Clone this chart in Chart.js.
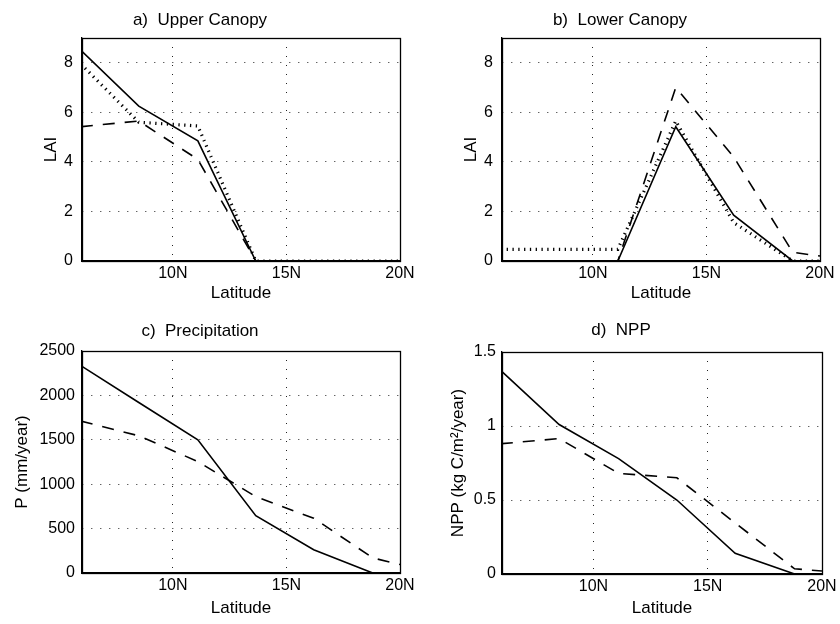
<!DOCTYPE html>
<html lang="en">
<head>
    <meta charset="UTF-8">
    <title>Canopy LAI, Precipitation and NPP by Latitude</title>
    <style>
        body {
            margin: 0;
            background: #fff;
        }
        #wrap {
            position: relative;
            width: 840px;
            height: 624px;
        }
        #wrap canvas {
            position: absolute;
        }
    </style>
</head>
<body>
    <div id="wrap">
        <canvas id="panelA" width="420" height="312" style="left:0;top:0"></canvas>
        <canvas id="panelB" width="420" height="312" style="left:420px;top:0"></canvas>
        <canvas id="panelC" width="420" height="312" style="left:0;top:312px"></canvas>
        <canvas id="panelD" width="420" height="312" style="left:420px;top:312px"></canvas>
    </div>

    <script src="https://cdn.jsdelivr.net/npm/chart.js@4.4.0/dist/chart.umd.min.js"></script>
    <script>
        // Latitude of each model grid row (degrees N)
        var lat = [5.95, 8.5, 11.1, 13.65, 16.2, 18.8, 20];
        var xTicks = [10, 15, 20];

        // a) upper canopy LAI
        var upperSolid  = [8.5, 6.25, 4.85, 0, 0, 0, 0];
        var upperDashed = [5.42, 5.65, 4.1, 0, 0, 0, 0];
        var upperDotted = [7.95, 5.6, 5.45, 0, 0, 0, 0];

        // b) lower canopy LAI
        var lowerSolid  = [0, 0, 0, 5.42, 1.85, 0, 0];
        var lowerDashed = [0, 0, 0, 7.0, 4.2, 0.35, 0.2];
        var lowerDotted = [0.47, 0.47, 0.47, 5.65, 1.55, 0, 0];

        // c) precipitation (mm/year)
        var precipSolid  = [2335, 1920, 1500, 645, 262, 0, 0];
        var precipDashed = [1710, 1545, 1255, 860, 617, 170, 95];

        // d) NPP (kg C/m2/year)
        var nppSolid  = [1.375, 1.01, 0.78, 0.5, 0.14, 0, 0];
        var nppDashed = [0.88, 0.915, 0.68, 0.65, 0.345, 0.035, 0.02];

        Chart.defaults.font.family = "'Liberation Sans', Arial, Helvetica, sans-serif";
        Chart.defaults.font.size = 16;
        Chart.defaults.color = '#000';

        var lineStyles = {
            solid:  { borderWidth: 1.6, borderDash: [] },
            dashed: { borderWidth: 1.6, borderDash: [12, 10] },
            dotted: { borderWidth: 3.2, borderDash: [1.3, 4.5] }
        };

        function toPoints(values) {
            return lat.map(function(x, i) { return { x: x, y: values[i] }; });
        }

        // frame around the plot area (top and right sides too)
        var boxPlugin = {
            id: 'box',
            afterDraw: function(chart) {
                var a = chart.chartArea, ctx = chart.ctx;
                ctx.save();
                ctx.strokeStyle = '#000';
                ctx.lineWidth = 1.3;
                ctx.strokeRect(Math.round(a.left) + 0.5, Math.round(a.top) + 0.5,
                    Math.round(a.right - a.left), Math.round(a.bottom - a.top));
                ctx.restore();
            }
        };

        function makePanel(id, p) {
            var H = 312;
            var datasets = p.series.map(function(s) {
                var st = lineStyles[s.style];
                return {
                    data: toPoints(s.values),
                    borderColor: '#000',
                    borderWidth: st.borderWidth,
                    borderDash: st.borderDash,
                    borderCapStyle: 'butt',
                    pointRadius: 0,
                    tension: 0,
                    fill: false
                };
            });

            var titleLine = 17 * 1.2;
            var titlePadTop = p.titleY - titleLine / 2;
            var titlePadBottom = p.top - titleLine - titlePadTop;

            return new Chart(document.getElementById(id), {
                type: 'line',
                data: { datasets: datasets },
                options: {
                    responsive: false,
                    animation: false,
                    layout: { padding: { top: 0, left: 0, bottom: 0, right: 420 - p.right } },
                    plugins: {
                        legend: { display: false },
                        tooltip: { enabled: false },
                        title: {
                            display: true,
                            text: p.title,
                            font: { size: 17, weight: 'normal' },
                            color: '#000',
                            padding: { top: titlePadTop, bottom: titlePadBottom }
                        }
                    },
                    scales: {
                        x: {
                            type: 'linear',
                            min: 6,
                            max: 20,
                            afterBuildTicks: function(scale) {
                                scale.ticks = xTicks.map(function(v) { return { value: v }; });
                            },
                            afterFit: function(scale) { scale.height = H - p.bottom; },
                            ticks: {
                                autoSkip: false,
                                maxRotation: 0,
                                padding: p.xTickPad,
                                callback: function(v) { return v + 'N'; }
                            },
                            grid: { color: '#222', lineWidth: 1, drawTicks: false },
                            border: { color: '#000', width: 1.3, dash: [1, 8] },
                            title: {
                                display: true,
                                text: 'Latitude',
                                font: { size: 17 },
                                padding: { top: 0, bottom: p.xTitlePad }
                            }
                        },
                        y: {
                            min: p.yMin,
                            max: p.yMax,
                            afterFit: function(scale) { scale.width = p.left; },
                            ticks: {
                                stepSize: p.yStep,
                                includeBounds: false,
                                padding: p.yTickPad,
                                callback: function(v) { return String(v); }
                            },
                            grid: { color: '#222', lineWidth: 1, drawTicks: false },
                            border: { color: '#000', width: 1.3, dash: [1, 8] },
                            title: {
                                display: true,
                                text: p.yTitle,
                                font: { size: 17 },
                                padding: { top: p.yTitlePad, bottom: 0 }
                            }
                        }
                    }
                },
                plugins: [boxPlugin]
            });
        }

        makePanel('panelA', {
            title: 'a)  Upper Canopy', yTitle: 'LAI',
            yMin: 0, yMax: 9, yStep: 2,
            left: 82, right: 400, top: 38, bottom: 261,
            titleY: 20, xTitlePad: 8.5, yTitlePad: 41.5, xTickPad: 3, yTickPad: 9,
            series: [
                { values: upperSolid, style: 'solid' },
                { values: upperDashed, style: 'dashed' },
                { values: upperDotted, style: 'dotted' }
            ]
        });

        makePanel('panelB', {
            title: 'b)  Lower Canopy', yTitle: 'LAI',
            yMin: 0, yMax: 9, yStep: 2,
            left: 82, right: 400, top: 38, bottom: 261,
            titleY: 20, xTitlePad: 8.5, yTitlePad: 41.5, xTickPad: 3, yTickPad: 9,
            series: [
                { values: lowerSolid, style: 'solid' },
                { values: lowerDashed, style: 'dashed' },
                { values: lowerDotted, style: 'dotted' }
            ]
        });

        makePanel('panelC', {
            title: 'c)  Precipitation', yTitle: 'P (mm/year)',
            yMin: 0, yMax: 2500, yStep: 500,
            left: 82, right: 400, top: 39, bottom: 261,
            titleY: 19.5, xTitlePad: 5, yTitlePad: 12, xTickPad: 2.5, yTickPad: 7,
            series: [
                { values: precipSolid, style: 'solid' },
                { values: precipDashed, style: 'dashed' }
            ]
        });

        makePanel('panelD', {
            title: 'd)  NPP', yTitle: 'NPP (kg C/m\u00B2/year)',
            yMin: 0, yMax: 1.5, yStep: 0.5,
            left: 82, right: 402, top: 40, bottom: 262,
            titleY: 18, xTitlePad: 5, yTitlePad: 28, xTickPad: 2.5, yTickPad: 6,
            series: [
                { values: nppSolid, style: 'solid' },
                { values: nppDashed, style: 'dashed' }
            ]
        });
    </script>
</body>
</html>
